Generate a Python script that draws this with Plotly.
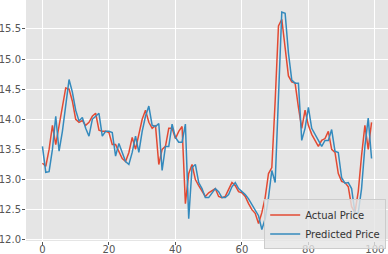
import plotly.graph_objects as go

idx = list(range(100))

actual_price = [
    13.27, 13.22, 13.5, 13.9, 13.58, 13.9, 14.2, 14.52, 14.5, 14.3,
    14.0, 13.95, 13.98, 13.9, 13.95, 14.05, 14.1, 13.82, 13.8, 13.8,
    13.78, 13.58, 13.58, 13.45, 13.35, 13.3, 13.45, 13.7, 13.5, 13.75,
    14.0, 14.15, 13.95, 13.85, 13.9, 13.25, 13.5, 13.55, 13.85, 13.85,
    13.68, 13.8, 13.88, 12.6, 13.1, 13.25, 13.0, 12.9, 12.82, 12.72,
    12.78, 12.82, 12.85, 12.72, 12.7, 12.72, 12.85, 12.95, 12.9, 12.8,
    12.78, 12.72, 12.6, 12.5, 12.44, 12.27, 12.45, 12.7, 13.1, 13.2,
    14.3, 15.55, 15.66, 15.15, 14.72, 14.62, 14.6, 14.2, 13.85, 14.15,
    13.9, 13.75, 13.65, 13.55, 13.65, 13.68, 13.8, 13.5, 13.45, 13.1,
    12.97, 12.95, 12.88, 12.55, 12.45, 12.8, 13.4, 13.9, 13.5, 13.95,
]

predicted_price = [
    13.55, 13.12, 13.13, 13.5, 14.05, 13.47, 13.8, 14.2, 14.66, 14.45,
    14.15, 13.97, 14.03, 13.85, 13.72, 14.0, 14.05, 14.1, 13.72, 13.8,
    13.8, 13.78, 13.39, 13.6, 13.45, 13.3, 13.25, 13.45, 13.72, 13.45,
    13.8, 14.05, 14.22, 13.9, 13.88, 13.93, 13.15, 13.55, 13.55, 13.92,
    13.7, 13.62, 13.62, 13.92, 12.35, 13.2, 13.25, 12.95, 12.85, 12.7,
    12.7, 12.78, 12.85, 12.8, 12.7, 12.7, 12.75, 12.88, 12.95, 12.85,
    12.8, 12.75, 12.68, 12.58, 12.5, 12.4, 12.17, 12.35, 12.7, 13.15,
    12.95, 14.4, 15.78, 15.76, 15.1, 14.65, 14.6, 14.6, 13.65, 13.85,
    14.2, 13.85, 13.75, 13.65, 13.55, 13.65, 13.65, 13.83, 13.47, 13.45,
    13.03, 12.94, 12.95, 12.85, 12.45, 12.45, 12.85, 13.55, 14.02, 13.35,
]

x_ticks = [0, 20, 40, 60, 80, 100]
y_ticks = [12.0, 12.5, 13.0, 13.5, 14.0, 14.5, 15.0, 15.5]
y_tick_labels = ["12.0", "12.5", "13.0", "13.5", "14.0", "14.5", "15.0", "15.5"]

fig = go.Figure()
fig.add_trace(go.Scatter(x=idx, y=actual_price, mode="lines", name="Actual Price",
                         line=dict(color="#E24A33", width=1.5)))
fig.add_trace(go.Scatter(x=idx, y=predicted_price, mode="lines", name="Predicted Price",
                         line=dict(color="#348ABD", width=1.5)))

axis_common = dict(
    showgrid=True, gridcolor="white", gridwidth=1,
    zeroline=False, showline=False, automargin=False,
    ticks="outside", tickwidth=1, tickcolor="#555555",
    tickfont=dict(family="DejaVu Sans", size=10, color="#555555"),
)

fig.update_layout(
    width=388, height=254,
    margin=dict(l=26, r=0, t=0, b=13, autoexpand=False),
    paper_bgcolor="white",
    plot_bgcolor="#E5E5E5",
    xaxis=dict(range=[-4.95, 103.95], tickvals=x_ticks, ticklen=3,
               ticklabelstandoff=-4, **axis_common),
    yaxis=dict(range=[11.98, 15.98], tickvals=y_ticks, ticktext=y_tick_labels,
               ticklen=3, ticklabelstandoff=-1, **axis_common),
    legend=dict(
        x=0.995, y=-0.035, xanchor="right", yanchor="bottom",
        bgcolor="rgba(229,229,229,0.8)", bordercolor="#CCCCCC", borderwidth=1,
        font=dict(family="DejaVu Sans", size=10, color="#333333"),
        itemwidth=30, tracegroupgap=0,
    ),
    showlegend=True,
)

fig.write_html("out.html")
